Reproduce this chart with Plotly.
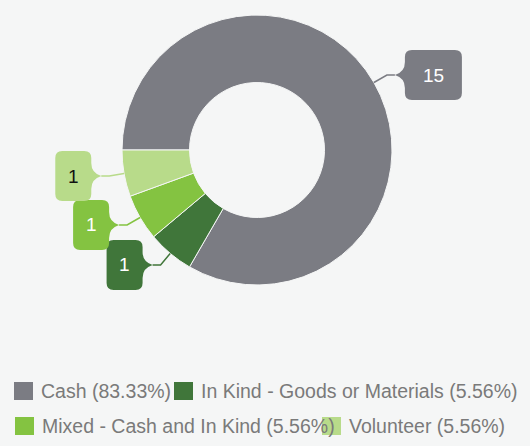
import math
import plotly.graph_objects as go

# ---- data ----
labels = ["Cash", "In Kind - Goods or Materials", "Mixed - Cash and In Kind", "Volunteer"]
values = [15, 1, 1, 1]
colors = ["#7b7c83", "#40763a", "#84c341", "#b8db8a"]
callout_text_colors = ["#ffffff", "#ffffff", "#ffffff", "#111111"]

# ---- layout constants (pixels) ----
W, H = 530, 446
CX, CY, R = 257, 150, 135
ROT = 270
BG = "#f5f6f6"
FONT = "Liberation Sans, Arial, sans-serif"
LEGEND_POS = [(14, 391), (174, 391), (15, 426), (322, 426)]


def px(x):
    return x / W


def py(y):
    return 1 - y / H


fig = go.Figure(
    go.Pie(
        labels=labels,
        values=values,
        hole=0.5,
        sort=False,
        direction="clockwise",
        rotation=ROT,
        marker=dict(colors=colors, line=dict(color=BG, width=1)),
        textinfo="none",
        hoverinfo="label+value+percent",
        showlegend=False,
        domain=dict(x=[px(CX - R), px(CX + R)], y=[py(CY + R), py(CY - R)]),
    )
)

shapes = []
annotations = []
total = sum(values)
cum = 0
for lab, v, col, tcol in zip(labels, values, colors, callout_text_colors):
    a = math.radians(ROT + 360 * (cum + v / 2) / total)
    cum += v
    sx, sy = CX + R * math.sin(a), CY - R * math.cos(a)
    kx, ky = CX + (R + 15) * math.sin(a), CY - (R + 15) * math.cos(a)
    side = 1 if math.sin(a) > 0 else -1
    tipx = kx + side * 8
    txt = str(v)
    bw = 15 + 21 * len(txt)
    bh = 50
    top, bot = ky - bh / 2, ky + bh / 2
    r = 7
    pl = 10  # pointer length

    def P(u, y):
        return f"{px(tipx + side * u):.5f},{py(y):.5f}"

    shapes.append(dict(
        type="path", xref="paper", yref="paper",
        path=f"M{px(sx):.5f},{py(sy):.5f} L{px(kx):.5f},{py(ky):.5f} L{px(tipx):.5f},{py(ky):.5f}",
        line=dict(color=col, width=1.5),
    ))
    path = (
        f"M{P(pl + r, top)} L{P(pl + bw - r, top)} Q{P(pl + bw, top)} {P(pl + bw, top + r)} "
        f"L{P(pl + bw, bot - r)} Q{P(pl + bw, bot)} {P(pl + bw - r, bot)} "
        f"L{P(pl + r, bot)} Q{P(pl, bot)} {P(pl, bot - r)} "
        f"L{P(pl, ky + 13)} Q{P(pl, ky + 3)} {P(0, ky)} Q{P(pl, ky - 3)} {P(pl, ky - 13)} "
        f"L{P(pl, top + r)} Q{P(pl, top)} {P(pl + r, top)} Z"
    )
    shapes.append(dict(
        type="path", xref="paper", yref="paper", path=path,
        fillcolor=col, line=dict(color=col, width=0),
    ))
    annotations.append(dict(
        x=px(tipx + side * (pl + bw / 2)), y=py(ky), xref="paper", yref="paper",
        text=txt, showarrow=False, xanchor="center", yanchor="middle",
        font=dict(family=FONT, size=19, color=tcol),
    ))

# manual legend
for (lx, ly), lab, v, col in zip(LEGEND_POS, labels, values, colors):
    shapes.append(dict(
        type="rect", xref="paper", yref="paper",
        x0=px(lx), x1=px(lx + 19), y0=py(ly - 9), y1=py(ly + 9),
        fillcolor=col, line=dict(color=col, width=0),
    ))
    annotations.append(dict(
        x=px(lx + 25), y=py(ly), xref="paper", yref="paper",
        text=f"{lab} ({v / total * 100:.2f}%)", showarrow=False,
        xanchor="left", yanchor="middle",
        font=dict(family=FONT, size=19.5, color="#7a7a7a"),
    ))

fig.update_layout(
    width=W, height=H,
    margin=dict(l=0, r=0, t=0, b=0),
    paper_bgcolor=BG, plot_bgcolor=BG,
    shapes=shapes, annotations=annotations,
    showlegend=False,
)

fig.write_html(
    "out.html",
    config={"displayModeBar": False},
    post_script=(
        "document.body.style.margin='0';"
        "document.body.style.padding='0';"
        f"document.body.style.background='{BG}';"
    ),
)
